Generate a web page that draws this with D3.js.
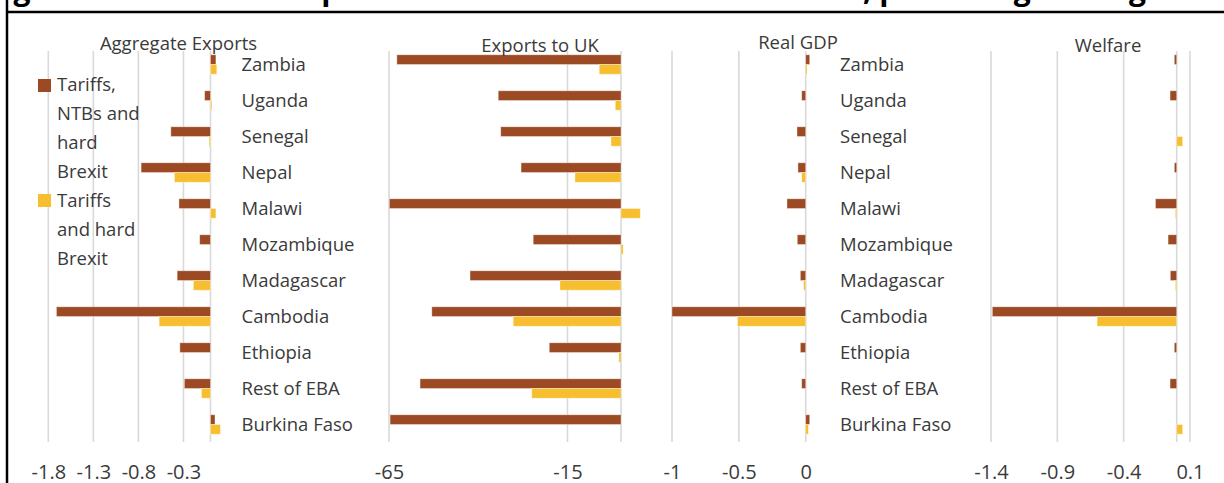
<!DOCTYPE html>
<html>
<head>
<meta charset="utf-8">
<script src="https://cdn.jsdelivr.net/npm/d3@7/dist/d3.min.js"></script>
<style>
  html, body { margin: 0; padding: 0; background: #fff; }
  svg { display: block; }
  text { font-family: "Open Sans", "Noto Sans", sans-serif; fill: #3a3a3a; }
</style>
</head>
<body>
<svg id="chart" width="1224" height="483"></svg>
<script>
// ---------- data ----------
const categories = ["Zambia","Uganda","Senegal","Nepal","Malawi","Mozambique","Madagascar","Cambodia","Ethiopia","Rest of EBA","Burkina Faso"];
const seriesNames = ["Tariffs, NTBs and hard Brexit", "Tariffs and hard Brexit"];
const legendLines = [["Tariffs,", "NTBs and", "hard", "Brexit"], ["Tariffs", "and hard", "Brexit"]];

const aggExportsFull   = [0.06, -0.065, -0.44, -0.77, -0.35, -0.12, -0.37, -1.71, -0.34, -0.29, 0.05];
const aggExportsTariff = [0.07, 0.015, -0.015, -0.40, 0.06, 0, -0.19, -0.57, 0, -0.10, 0.11];
const ukFull    = [-62.8, -34.4, -33.7, -28.0, -64.9, -24.6, -42.3, -53.0, -20.1, -56.3, -64.7];
const ukTariff  = [-6.1, -1.6, -2.8, -12.9, 5.4, 0.6, -17.1, -30.2, -0.6, -25.0, 0];
const gdpFull   = [0.03, -0.03, -0.065, -0.058, -0.14, -0.063, -0.04, -1.0, -0.04, -0.03, 0.03];
const gdpTariff = [0.01, 0, 0, -0.03, 0, 0, -0.015, -0.51, 0, 0, 0.02];
const welfareFull   = [-0.018, -0.05, 0, -0.018, -0.16, -0.065, -0.048, -1.39, -0.018, -0.05, 0];
const welfareTariff = [0, 0, 0.045, 0, -0.01, 0, -0.01, -0.60, 0, 0, 0.045];

const aggTicks = [-1.8, -1.3, -0.8, -0.3];
const ukTicks = [-65, -15];
const gdpTicks = [-1, -0.5, 0];
const welfareTicks = [-1.4, -0.9, -0.4, 0.1];

const panelTitles = ["Aggregate Exports", "Exports to UK", "Real GDP", "Welfare"];
const figureTitle = "Figure 5: Simulated impact of hard Brexit on EBA countries, percentage change from baseline";

// ---------- layout ----------
const colors = ["#9C4A24", "#F7BE2F"];
const svg = d3.select("#chart");
const gridTop = 51, gridBottom = 442;
const fmtTick = d => String(d); // plain hyphen minus as in the source

const y = d3.scaleBand().domain(categories).range([46.5, 442.5]).paddingInner(0.46).paddingOuter(0.23);
const ySub = d3.scaleBand().domain(seriesNames).range([0, y.bandwidth()]);

const panels = [
  { title: panelTitles[0], data: [aggExportsFull, aggExportsTariff], domain: [-1.8, 0], range: [48.3, 210.5], ticks: aggTicks, titleX: 178.5, titleY: 50, labelX: 241.5 },
  { title: panelTitles[1], data: [ukFull, ukTariff], domain: [-65, 0], range: [389, 621], ticks: ukTicks, titleX: 540, titleY: 51.5, labelX: null },
  { title: panelTitles[2], data: [gdpFull, gdpTariff], domain: [-1, 0], range: [672, 805.7], ticks: gdpTicks, titleX: 798, titleY: 49, labelX: 840 },
  { title: panelTitles[3], data: [welfareFull, welfareTariff], domain: [-1.4, 0], range: [991, 1176.7], ticks: welfareTicks, titleX: 1108, titleY: 51.5, labelX: null }
];

// figure title (cut off at the top edge: only descenders visible) and frame
svg.append("text")
  .attr("x", -12).attr("y", -0.5)
  .style("font-family", "'Open Sans', sans-serif")
  .style("font-weight", "bold").style("font-size", "30px").style("fill", "#000")
  .text(figureTitle);
svg.append("line").attr("x1", 7).attr("x2", 1224).attr("y1", 12).attr("y2", 12)
  .attr("stroke", "#000").attr("stroke-width", 2.5);
svg.append("line").attr("x1", 7).attr("x2", 7).attr("y1", 0).attr("y2", 483)
  .attr("stroke", "#000").attr("stroke-width", 2.5);

panels.forEach(p => {
  const x = d3.scaleLinear().domain(p.domain).range(p.range);
  const g = svg.append("g");

  // gridlines (ticks + zero axis)
  const gridVals = Array.from(new Set(p.ticks.concat([0])));
  g.selectAll("line.grid").data(gridVals).join("line")
    .attr("class", "grid")
    .attr("x1", d => x(d)).attr("x2", d => x(d))
    .attr("y1", gridTop).attr("y2", gridBottom)
    .attr("stroke", "#d9d9d9").attr("stroke-width", 1.6);

  // bars
  p.data.forEach((vals, si) => {
    g.selectAll("rect.s" + si).data(vals).join("rect")
      .attr("class", "s" + si)
      .attr("x", d => Math.min(x(0), x(d)))
      .attr("width", d => Math.abs(x(d) - x(0)))
      .attr("y", (d, i) => y(categories[i]) + ySub(seriesNames[si]))
      .attr("height", ySub.bandwidth())
      .attr("fill", colors[si])
      .attr("stroke", "#ffffff").attr("stroke-opacity", 0.45).attr("stroke-width", 0.8);
  });

  // tick labels
  const axis = d3.axisBottom(x).tickValues(p.ticks).tickSize(0).tickPadding(0).tickFormat(fmtTick);
  const ag = g.append("g").attr("transform", "translate(0,479)").call(axis);
  ag.select(".domain").remove();
  ag.selectAll("text")
    .attr("dy", 0).attr("y", 0)
    .style("font-family", "'Open Sans', sans-serif")
    .style("font-size", "20px").style("fill", "#3a3a3a");

  // panel title
  g.append("text").attr("x", p.titleX).attr("y", p.titleY)
    .attr("text-anchor", "middle").style("font-size", "18.5px")
    .text(p.title);

  // category labels
  if (p.labelX !== null) {
    g.selectAll("text.cat").data(categories).join("text")
      .attr("class", "cat")
      .attr("x", p.labelX)
      .attr("y", d => y(d) + y.bandwidth() / 2 + 6.5)
      .style("font-size", "18.5px")
      .text(d => d);
  }
});

// legend
const legend = svg.append("g");
const legendTop = [79, 194];
const lineBase = [91, 207];
seriesNames.forEach((s, i) => {
  legend.append("rect").attr("x", 38).attr("y", legendTop[i]).attr("width", 13).attr("height", 13)
    .attr("fill", colors[i]);
  legend.selectAll("text.l" + i).data(legendLines[i]).join("text")
    .attr("class", "l" + i)
    .attr("x", 57).attr("y", (d, j) => lineBase[i] + j * 29)
    .style("font-size", "18.5px")
    .text(d => d);
});
</script>
</body>
</html>
